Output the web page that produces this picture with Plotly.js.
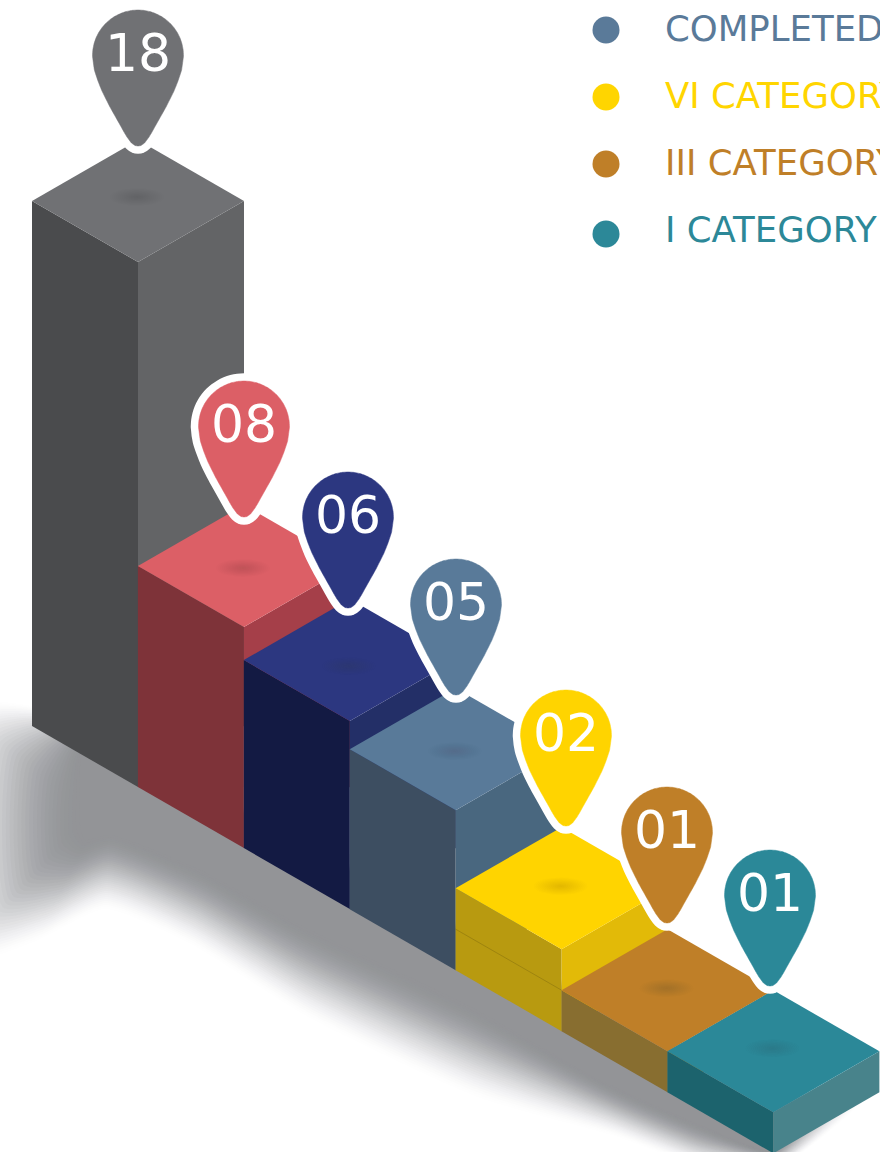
<!DOCTYPE html>
<html><head><meta charset="utf-8">
<script src="https://cdn.plot.ly/plotly-3.0.1.min.js"></script>
<style>html,body{margin:0;padding:0;background:#fff;overflow:hidden}</style>
</head><body><div id="chart" style="width:880px;height:1152px"></div>
<script>
// ---- data ----
const valueLabels = ["18","08","06","05","02","01","01"];
const columnHeights = [525,221,188,160,82,41,41];   // drawn height of each column
const unitLines = [0,0,0,0,1,0,0];                  // visible stacking seams
const topColors = ["#707174","#dc5f66","#2c3780","#597a99","#ffd400","#bf7f28","#2b8898"];
const leftColors = ["#4a4b4d","#7e3339","#131a43","#3d4e61","#b89a10","#886e30","#1c636d"];
const rightColors = ["#636466","#a53f49","#232f67","#49677f","#e2ba08","#a8761f","#48838b"];
const legendLabels = ["COMPLETED","VI CATEGORY","III CATEGORY","I CATEGORY"];
const legendColors = ["#5a7a99","#ffd500","#bf7f28","#2c8898"];

// ---- layout constants ----
const stepX = 105.9, stepY = 61.05, halfW = 106, halfD = 61, baseX = 138, baseY = 787;
const pinCX = [138,244,348,456,566,667,770];
const pinTop = [10,381,472,559,690,787,850];
const smudgeShift = [-4,2,6,2,-2,-2,-3];
const legendMarkY = [30,97,164,234], legendTextY = [32,99,166,233];
const pinLower = [[45.5,46],[43.6,60],[40,71],[36,81],[28,97],[19,113],[14,122],[11,127],[6.5,133],[3,135.5],[0,136]];
const shadowOuter = [[-60,700],[40,705],[773,1080],[880,1085],[785,1165],[710,1172],[615,1140],[480,1105],[310,1025],[190,950],[105,915],[30,950],[-60,975]];
const shadowInner = [[80,800],[85,750],[760,1100],[790,1110],[772,1150],[700,1125],[600,1080],[467,1005],[300,925],[200,870],[110,835],[85,840],[80,825]];

const traces = [];
const poly = (pts, color, extra) => traces.push(Object.assign({
  type:'scatter', mode:'lines', x:pts.map(p=>p[0]), y:pts.map(p=>p[1]),
  fill:'toself', fillcolor:color, line:{width:0}, hoverinfo:'skip'
}, extra||{}));

// ground shadow: stack of translucent polygons between outer and inner outlines
const LAYERS = 40, shadowTone = [147,148,151];
let prev = 0;
for (let k=1;k<=LAYERS;k++){
  const u=k/LAYERS, target=u*u*(3-2*u);
  const a=(target-prev)/(1-prev); prev=target;
  const pts=shadowOuter.map((p,j)=>[p[0]+(shadowInner[j][0]-p[0])*u, p[1]+(shadowInner[j][1]-p[1])*u]);
  pts.push(pts[0]);
  poly(pts,`rgba(${shadowTone[0]},${shadowTone[1]},${shadowTone[2]},${Math.min(a,1).toFixed(4)})`,{line:{width:0,shape:'spline',smoothing:0.6}});
}

// columns, back to front
columnHeights.forEach((h,i)=>{
  const fx=baseX+stepX*i, fy=baseY+stepY*i, ty=fy-h;
  poly([[fx-halfW,fy-halfD],[fx,fy],[fx,ty],[fx-halfW,ty-halfD],[fx-halfW,fy-halfD]],leftColors[i]);
  poly([[fx+halfW,fy-halfD],[fx,fy],[fx,ty],[fx+halfW,ty-halfD],[fx+halfW,fy-halfD]],rightColors[i]);
  poly([[fx-halfW,ty-halfD],[fx,ty],[fx+halfW,ty-halfD],[fx,ty-2*halfD],[fx-halfW,ty-halfD]],topColors[i]);
  if(unitLines[i]){
    const ly=fy-h/(unitLines[i]+1);
    traces.push({type:'scatter',mode:'lines',x:[fx-halfW,fx],y:[ly-halfD,ly],line:{color:'rgba(90,75,10,0.4)',width:0.7},hoverinfo:'skip'});
  }
});

// soft smudge in the middle of every top face
const SM = 14;
for(let lv=1;lv<=SM;lv++){
  const xs=[],ys=[];
  columnHeights.forEach((h,i)=>{
    const cx=baseX+stepX*i-1, cy=baseY+stepY*i-h-halfD+smudgeShift[i];
    const f=1-(lv-1)/SM;
    for(let t=0;t<=24;t++){
      const ang=t/24*2*Math.PI;
      xs.push(cx+27*f*Math.cos(ang)); ys.push(cy+9*f*Math.sin(ang));
    }
    xs.push(null);ys.push(null);
  });
  traces.push({type:'scatter',mode:'lines',x:xs,y:ys,fill:'toself',fillcolor:'rgba(50,50,50,0.012)',line:{width:0},hoverinfo:'skip'});
}

// pins
function pinOutline(cx,top){
  const pts=[], r=45.5, cy=top+45.5;
  for(let t=0;t<=24;t++){const a=Math.PI+t/24*Math.PI; pts.push([cx+r*Math.cos(a),cy+r*Math.sin(a)]);}
  pinLower.forEach(p=>pts.push([cx+p[0],top+p[1]]));
  pinLower.slice(0,-1).reverse().forEach(p=>pts.push([cx-p[0],top+p[1]]));
  pts.push(pts[0]);
  return pts;
}
valueLabels.forEach((lab,i)=>{
  const pts=pinOutline(pinCX[i],pinTop[i]);
  const xy={x:pts.map(p=>p[0]),y:pts.map(p=>p[1])};
  traces.push(Object.assign({type:'scatter',mode:'lines',line:{color:'#fff',width:15.5,shape:'spline',smoothing:0.3},hoverinfo:'skip'},xy));
  traces.push(Object.assign({type:'scatter',mode:'lines',fill:'toself',fillcolor:topColors[i],line:{color:topColors[i],width:0.5,shape:'spline',smoothing:0.3},hoverinfo:'skip'},xy));
});
traces.push({type:'scatter',mode:'text',x:pinCX,y:pinTop.map(t=>t+48),text:valueLabels,textposition:'middle center',
  textfont:{family:'DejaVu Sans',size:52,color:'#fff'},hoverinfo:'skip',cliponaxis:false});

// legend
traces.push({type:'scatter',mode:'markers',x:legendLabels.map(()=>606),y:legendMarkY,
  marker:{size:27,color:legendColors,line:{width:0}},hoverinfo:'skip'});
traces.push({type:'scatter',mode:'text',x:legendLabels.map(()=>665),y:legendTextY,text:legendLabels,textposition:'middle right',
  textfont:{family:'DejaVu Sans',size:35.5,color:legendColors},hoverinfo:'skip'});

Plotly.newPlot('chart',traces,{
  width:880,height:1152,margin:{l:0,r:0,t:0,b:0,pad:0},showlegend:false,
  paper_bgcolor:'#fff',plot_bgcolor:'#fff',
  xaxis:{range:[0,880],visible:false,fixedrange:true},
  yaxis:{range:[1152,0],visible:false,fixedrange:true}
},{staticPlot:true,displayModeBar:false});
</script></body></html>
